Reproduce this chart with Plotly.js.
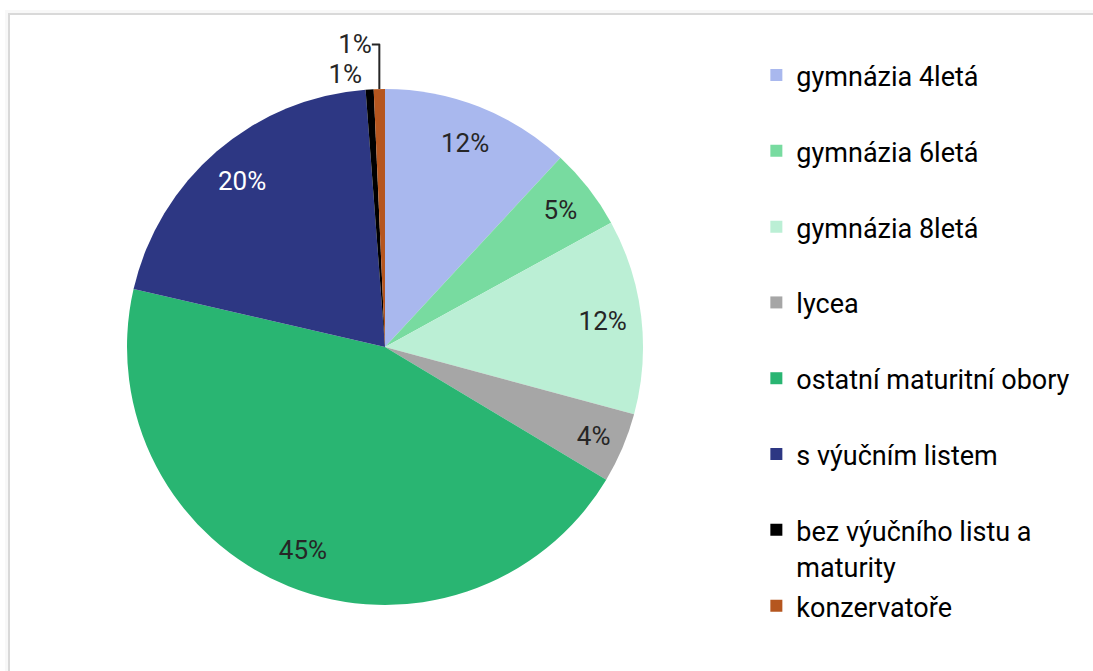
<!DOCTYPE html>
<html>
<head>
<meta charset="utf-8">
<script src="https://cdn.plot.ly/plotly-3.0.1.min.js"></script>
<style>
  html, body { margin: 0; padding: 0; background: #ffffff; overflow: hidden; }
  #frame { position: absolute; left: 8px; top: 13px; width: 2000px; height: 2000px;
           border: 2px solid #d9d9d9; box-shadow: 0 0 0 3px #f8f8f8; }
  #chart { position: absolute; left: 0; top: 0; width: 1093px; height: 671px; }
</style>
</head>
<body>
<div id="frame"></div>
<div id="chart"></div>
<script>
const categories = [
  "gymnázia 4letá",
  "gymnázia 6letá",
  "gymnázia 8letá",
  "lycea",
  "ostatní maturitní obory",
  "s výučním listem",
  "bez výučního listu a maturity",
  "konzervatoře"
];
const shares = [11.9, 5.1, 12.2, 4.4, 45.0, 20.2, 0.5, 0.7];
const sliceColors = ["#A9B8EE", "#78DBA0", "#BBEFD5", "#A6A6A6", "#29B572", "#2D3783", "#000000", "#B5561F"];
const labelColors = ["#262626", "#262626", "#262626", "#262626", "#262626", "#ffffff", "#262626", "#262626"];
const textPositions = ["inside", "inside", "inside", "inside", "inside", "inside", "outside", "outside"];

// legend labels: visible text at 27px, padded to an even entry height
const legendLabels = categories.map(function (c) {
  if (c === "bez výučního listu a maturity") {
    return "<span style='font-size:27px'>bez výučního listu a</span><br><span style='font-size:27px'>maturity</span>";
  }
  return "<span style='font-size:27px'>" + c + "</span><br> ";
});

const pieDomain = { x: [0.1162, 0.5883], y: [0.0984, 0.8674] };

// the filled pie (slices + legend)
const pieTrace = {
  type: "pie",
  labels: legendLabels,
  values: shares,
  sort: false,
  direction: "clockwise",
  rotation: 0,
  marker: { colors: sliceColors, line: { width: 0 } },
  textinfo: "none",
  domain: pieDomain,
  automargin: false
};

// transparent ring carrying the percentage labels near the rim
const labelTrace = {
  type: "pie",
  labels: legendLabels,
  values: shares,
  sort: false,
  direction: "clockwise",
  rotation: 0,
  hole: 0.7,
  showlegend: false,
  marker: { colors: sliceColors.map(function () { return "rgba(0,0,0,0)"; }), line: { width: 0 } },
  texttemplate: "%{percent:.0%}",
  textposition: textPositions,
  insidetextorientation: "horizontal",
  insidetextfont: { family: "Roboto, sans-serif", size: 26, color: labelColors },
  outsidetextfont: { family: "Roboto, sans-serif", size: 26, color: "#262626" },
  domain: pieDomain,
  automargin: false
};

const layout = {
  width: 1093,
  height: 671,
  margin: { l: 0, r: 0, t: 0, b: 0 },
  paper_bgcolor: "rgba(0,0,0,0)",
  plot_bgcolor: "rgba(0,0,0,0)",
  font: { family: "Roboto, sans-serif", color: "#000000" },
  showlegend: true,
  legend: {
    x: 0.692, xanchor: "left",
    y: 0.925, yanchor: "top",
    font: { family: "Roboto, sans-serif", size: 28, color: "#000000" },
    valign: "top",
    bgcolor: "rgba(0,0,0,0)"
  }
};

Plotly.newPlot("chart", [pieTrace, labelTrace], layout, { displayModeBar: false, staticPlot: true });
</script>
</body>
</html>
